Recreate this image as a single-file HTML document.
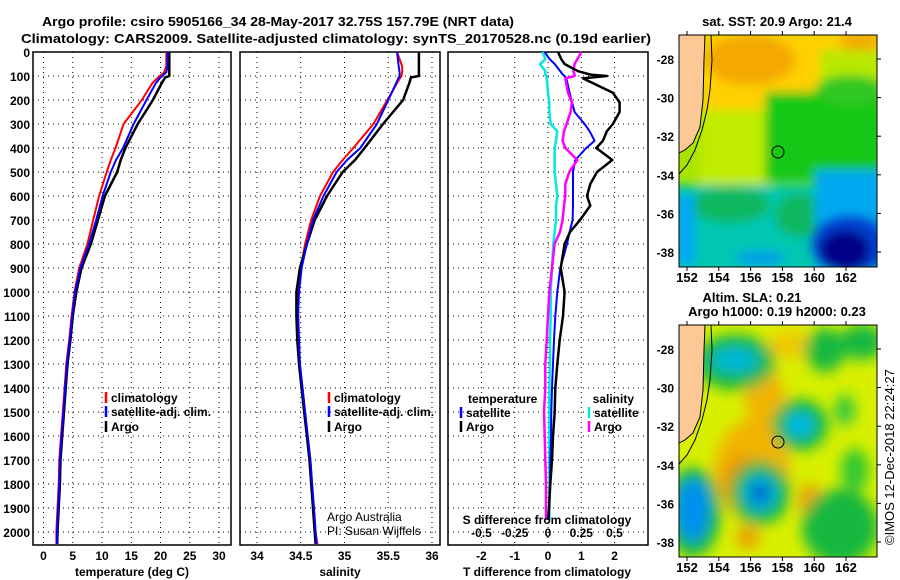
<!DOCTYPE html>
<html><head><meta charset="utf-8"><style>
html,body{margin:0;padding:0;background:#fff}
svg{display:block;font-family:"Liberation Sans",Arial,sans-serif}
.b{font-weight:bold;font-size:13px}
.grid{stroke:#000;stroke-width:1;stroke-dasharray:1,4}
</style></head><body>
<svg id="s" width="900" height="580" viewBox="0 0 900 580" xmlns="http://www.w3.org/2000/svg">
<defs>
<filter id="bl1" x="-20%" y="-20%" width="140%" height="140%"><feGaussianBlur stdDeviation="5"/></filter>
<filter id="bl2" x="-30%" y="-30%" width="160%" height="160%"><feGaussianBlur stdDeviation="7"/></filter>
<clipPath id="c1"><rect x="679" y="35" width="198" height="232"/></clipPath>
<clipPath id="c2"><rect x="679" y="325" width="198" height="232"/></clipPath>
</defs>
<text class="b" x="42" y="26" textLength="472" lengthAdjust="spacingAndGlyphs">Argo profile: csiro 5905166_34 28-May-2017 32.75S 157.79E (NRT data)</text>
<text class="b" x="21" y="43" textLength="630" lengthAdjust="spacingAndGlyphs">Climatology: CARS2009. Satellite-adjusted climatology: synTS_20170528.nc (0.19d earlier)</text>

<g id="p1"></g>
<g id="p2"></g>
<g id="p3"></g>

<!-- Map 1: SST -->
<g>
<text class="b" x="777" y="26" text-anchor="middle" font-size="12">sat. SST: 20.9 Argo: 21.4</text>
<g clip-path="url(#c1)">
<rect x="679" y="35" width="198" height="232" fill="#a8e400"/>
<g filter="url(#bl1)">
<rect x="700" y="30" width="190" height="80" fill="#ffd000"/>
<ellipse cx="750" cy="60" rx="45" ry="25" fill="#f4a800"/>
<ellipse cx="860" cy="42" rx="20" ry="10" fill="#f4a800"/>
<rect x="820" y="50" width="70" height="45" fill="#b8e800"/>
<rect x="700" y="110" width="70" height="85" fill="#c0ec00"/>
<rect x="765" y="92" width="120" height="90" fill="#18c818"/>
<ellipse cx="850" cy="90" rx="35" ry="15" fill="#30c820"/>
<rect x="670" y="185" width="220" height="90" fill="#00c8b0"/>
<ellipse cx="730" cy="205" rx="40" ry="18" fill="#10b860"/>
<ellipse cx="800" cy="215" rx="25" ry="22" fill="#10b860"/>
<rect x="815" y="170" width="70" height="100" fill="#00a8f0"/>
<rect x="675" y="195" width="20" height="70" fill="#00a8f0"/>
<ellipse cx="850" cy="245" rx="40" ry="30" fill="#0040d0"/>
<ellipse cx="845" cy="250" rx="25" ry="20" fill="#000088"/>
<ellipse cx="760" cy="258" rx="25" ry="8" fill="#00a0e8"/>
</g>
<polygon points="679,35 705,35 704,60 703,100 700,127 693,143 685,150 679,153" fill="#fbc896" stroke="#000" stroke-width="1"/>
<polyline points="711,35 712,60 710,90 707,110 702,130 695,150 687,165 679,174" fill="none" stroke="#000" stroke-width="1"/>
<circle cx="778" cy="152" r="6" fill="none" stroke="#000" stroke-width="1"/>
</g>
<rect x="679" y="35" width="198" height="232" fill="none" stroke="#000" stroke-width="1"/>
</g>

<!-- Map 2: SLA -->
<g>
<text class="b" x="752" y="302" text-anchor="middle" font-size="12">Altim. SLA: 0.21</text>
<text class="b" x="777" y="316" text-anchor="middle" font-size="12">Argo h1000: 0.19 h2000: 0.23</text>
<g clip-path="url(#c2)">
<rect x="679" y="325" width="198" height="232" fill="#d8f000"/>
<g filter="url(#bl2)">
<ellipse cx="752" cy="470" rx="38" ry="50" fill="#f2b400"/>
<ellipse cx="765" cy="400" rx="20" ry="32" fill="#f2b400"/>
<ellipse cx="745" cy="480" rx="22" ry="24" fill="#ea9400"/>
<ellipse cx="810" cy="500" rx="12" ry="16" fill="#eca000"/>
<ellipse cx="748" cy="537" rx="12" ry="12" fill="#eca000"/>
<ellipse cx="790" cy="345" rx="22" ry="14" fill="#f0c800"/>
<ellipse cx="735" cy="362" rx="40" ry="28" fill="#18b840"/>
<ellipse cx="735" cy="360" rx="24" ry="13" fill="#00b8d8"/>
<ellipse cx="825" cy="350" rx="20" ry="22" fill="#18b840"/>
<ellipse cx="862" cy="342" rx="22" ry="18" fill="#18b840"/>
<ellipse cx="800" cy="425" rx="28" ry="26" fill="#18b840"/>
<ellipse cx="800" cy="425" rx="14" ry="13" fill="#00b8e8"/>
<ellipse cx="845" cy="410" rx="10" ry="16" fill="#30c840"/>
<ellipse cx="760" cy="493" rx="30" ry="32" fill="#18b840"/>
<ellipse cx="760" cy="493" rx="17" ry="18" fill="#00b0e8"/>
<ellipse cx="760" cy="493" rx="8" ry="9" fill="#0028c0"/>
<ellipse cx="693" cy="512" rx="28" ry="45" fill="#18b840"/>
<ellipse cx="693" cy="510" rx="17" ry="32" fill="#0090f0"/>
<ellipse cx="840" cy="527" rx="38" ry="38" fill="#18b840"/>
<ellipse cx="855" cy="470" rx="14" ry="22" fill="#30c830"/>
</g>
<polygon points="679,325 705,325 704,350 703,390 700,417 693,433 685,440 679,443" fill="#fbc896" stroke="#000" stroke-width="1"/>
<polyline points="711,325 712,350 710,380 707,400 702,420 695,440 687,455 679,464" fill="none" stroke="#000" stroke-width="1"/>
<circle cx="778" cy="442" r="6" fill="none" stroke="#000" stroke-width="1"/>
</g>
<rect x="679" y="325" width="198" height="232" fill="none" stroke="#000" stroke-width="1"/>
</g>
<g id="mapaxes"></g>
<text x="0" y="0" font-size="13" transform="translate(894,545) rotate(-90)">©IMOS 12-Dec-2018 22:24:27</text>
</svg>
<script>
// ---- data ----
var depths = [0,60,85,100,106,130,200,300,400,450,500,600,700,800,900,1000,1100,1200,1300,1400,1500,1600,1700,1800,1900,2000,2050];
var tempClim = [21.0,21.0,20.6,19.9,19.6,18.6,16.8,13.7,12.3,11.5,10.8,9.5,8.5,7.5,6.1,5.3,4.8,4.4,3.9,3.6,3.3,3.0,2.7,2.6,2.4,2.2,2.2];
var tempSat  = [21.2,21.2,21.0,20.3,20.0,19.2,17.6,15.4,13.6,12.4,11.5,10.1,9.0,7.8,6.3,5.4,4.9,4.5,4.0,3.7,3.4,3.1,2.8,2.7,2.5,2.3,2.3];
var tempArgo = [21.5,21.5,21.5,21.5,20.8,20.2,18.7,16.1,14.0,13.2,12.6,10.5,9.3,8.1,6.5,5.6,5.0,4.6,4.1,3.8,3.5,3.2,2.9,2.8,2.6,2.4,2.35];
var salClim = [35.60,35.66,35.66,35.65,35.64,35.60,35.49,35.33,35.10,34.98,34.87,34.72,34.62,34.55,34.50,34.47,34.47,34.48,34.49,34.52,34.55,34.58,34.61,34.63,34.65,34.67,34.69];
var salSat  = [35.60,35.62,35.63,35.63,35.62,35.59,35.50,35.37,35.18,35.03,34.91,34.76,34.64,34.57,34.51,34.48,34.47,34.48,34.49,34.52,34.55,34.58,34.61,34.63,34.65,34.67,34.68];
var salArgo = [35.85,35.85,35.85,35.85,35.76,35.74,35.67,35.44,35.23,35.12,34.98,34.80,34.66,34.57,34.49,34.45,34.45,34.46,34.48,34.51,34.54,34.57,34.60,34.62,34.64,34.66,34.67];
var diffDepths = [0,30,50,80,95,100,110,170,210,250,300,330,370,400,450,500,550,600,640,700,750,800,900,1000,1100,1200,1300,1400,1500,1600,1700,1800,1900,1950];
var dTSat  = [-0.1,0.05,0.2,0.37,0.45,0.5,0.55,0.65,0.72,0.8,1.1,1.25,1.4,1.15,0.82,0.75,0.75,0.75,0.75,0.74,0.65,0.57,0.37,0.28,0.22,0.18,0.15,0.12,0.1,0.09,0.07,0.06,0.04,0.03];
var dTArgo = [0.3,0.4,0.5,0.9,1.3,1.77,1.05,1.95,2.15,2.15,1.95,1.77,1.65,1.45,1.93,1.47,1.27,1.17,1.27,0.96,0.66,0.5,0.38,0.5,0.45,0.35,0.28,0.22,0.2,0.15,0.12,0.07,0.03,0.0];
var dSSat  = [-0.04,-0.02,-0.06,-0.02,-0.02,-0.01,-0.01,0.0,0.01,0.01,0.02,0.07,0.06,0.05,0.05,0.05,0.06,0.07,0.06,0.06,0.05,0.04,0.03,0.02,0.02,0.015,0.015,0.01,0.01,0.01,0.01,0.01,0.01,0.01];
var dSArgo = [0.25,0.22,0.2,0.19,0.2,0.2,0.13,0.15,0.18,0.17,0.14,0.12,0.11,0.13,0.22,0.16,0.13,0.13,0.12,0.11,0.09,0.05,0.03,0.01,0.0,-0.01,-0.02,-0.02,-0.03,-0.025,-0.02,-0.015,-0.015,-0.015];
var depthTicks = [0,100,200,300,400,500,600,700,800,900,1000,1100,1200,1300,1400,1500,1600,1700,1800,1900,2000];
var tempTicks = [0,5,10,15,20,25,30];
var salTicks = ["34","34.5","35","35.5","36"];
var tdTicks = ["-2","-1","0","1","2"];
var sdTicks = ["-0.5","-0.25","0","0.25","0.5"];
var lonTicks = [152,154,156,158,160,162];
var latTicks = [-28,-30,-32,-34,-36,-38];

var NS='http://www.w3.org/2000/svg';
function mk(p,tag,at){var e=document.createElementNS(NS,tag);for(var k in at)e.setAttribute(k,at[k]);p.appendChild(e);return e;}
function yD(d){return 52+d*0.24;}
function xT(t){return 43.5+t*5.85;}
function xS(s){return 257+(s-34)*87.5;}
function xTD(v){return 548+v*33.3;}
function xSD(v){return 548+v*133;}

function panel(g,x0,x1,vgrid){
  depthTicks.forEach(function(d){ if(d>0){var l=mk(g,'line',{x1:x0,x2:x1,y1:yD(d),y2:yD(d),'class':'grid'});
    
    }});
  vgrid.forEach(function(x){var l=mk(g,'line',{x1:x,x2:x,y1:52,y2:545,'class':'grid'});
    
    });
  var r=mk(g,'rect',{x:x0,y:52,width:x1-x0,height:493,fill:'none',stroke:'#000','stroke-width':1.5});
  
  
}
function line(g,xs,ds,xf,col,w,name){
  var pts=[];for(var i=0;i<xs.length;i++)pts.push(xf(xs[i]).toFixed(1)+','+yD(ds[i]).toFixed(1));
  var p=mk(g,'polyline',{points:pts.join(' '),fill:'none',stroke:col,'stroke-width':w,'stroke-linejoin':'round'});
  
  
}
function txt(g,x,y,s,anchor,bold,name,size){
  var t=mk(g,'text',{x:x,y:y,'text-anchor':anchor||'start'});
  if(bold)t.setAttribute('font-weight','bold');
  t.setAttribute('font-size',size||13);
  t.textContent=s;
  
  
  return t;
}
function legend(g,x,y,col,label,name){
  var l=mk(g,'line',{x1:x,x2:x,y1:y-10,y2:y+1,stroke:col,'stroke-width':2.5});
  
  
  txt(g,x+5,y,label,'start',true,name,12);
}

// Panel 1 temperature
var g1=document.getElementById('p1');
panel(g1,33,231,tempTicks.map(xT));
line(g1,tempClim,depths,xT,'#ff0000',2,'temperature-climatology-line');
line(g1,tempArgo,depths,xT,'#000',2.5,'temperature-argo-line');
line(g1,tempSat,depths,xT,'#0000ff',2,'temperature-satellite-line');
depthTicks.forEach(function(d){txt(g1,30,yD(d)+5,String(d),'end',true,'depth-tick-label',12);});
tempTicks.forEach(function(t){txt(g1,xT(t),560,String(t),'middle',true,'temperature-tick-label',12);});
txt(g1,132,576,'temperature (deg C)','middle',true,'temperature-axis-title',12);
legend(g1,106,402,'#ff0000','climatology','legend-climatology');
legend(g1,106,416,'#0000ff','satellite-adj. clim.','legend-satellite');
legend(g1,106,431,'#000','Argo','legend-argo');

// Panel 2 salinity
var g2=document.getElementById('p2');
panel(g2,240,440,salTicks.map(function(s){return xS(parseFloat(s));}));
line(g2,salClim,depths,xS,'#ff0000',2,'salinity-climatology-line');
line(g2,salArgo,depths,xS,'#000',2.5,'salinity-argo-line');
line(g2,salSat,depths,xS,'#0000ff',2,'salinity-satellite-line');
salTicks.forEach(function(s){txt(g2,xS(parseFloat(s)),560,s,'middle',true,'salinity-tick-label',12);});
txt(g2,340,576,'salinity','middle',true,'salinity-axis-title',12);
legend(g2,329,402,'#ff0000','climatology','legend-climatology');
legend(g2,329,416,'#0000ff','satellite-adj. clim.','legend-satellite');
legend(g2,329,431,'#000','Argo','legend-argo');
txt(g2,327,521,'Argo Australia','start',false,'credit-line-1',12);
txt(g2,327,535,'PI: Susan Wijffels','start',false,'credit-line-2',12);

// Panel 3 differences
var g3=document.getElementById('p3');
panel(g3,448,648,tdTicks.map(function(v){return xTD(parseFloat(v));}));
line(g3,dSSat,diffDepths,xSD,'#00e8e8',2.5,'salinity-diff-satellite-line');
line(g3,dTSat,diffDepths,xTD,'#0000ff',2,'temperature-diff-satellite-line');
line(g3,dSArgo,diffDepths,xSD,'#ff00ff',2.5,'salinity-diff-argo-line');
line(g3,dTArgo,diffDepths,xTD,'#000',2.5,'temperature-diff-argo-line');
tdTicks.forEach(function(v){txt(g3,xTD(parseFloat(v)),560,v,'middle',true,'t-diff-tick-label',12);});
sdTicks.forEach(function(v){txt(g3,xSD(parseFloat(v)),537,v,'middle',true,'s-diff-tick-label',12);});
txt(g3,547,524,'S difference from climatology','middle',true,'s-diff-axis-title',12);
txt(g3,547,576,'T difference from climatology','middle',true,'t-diff-axis-title',12);
txt(g3,468,403,'temperature','start',true,'legend-temperature-heading',12);
legend(g3,461,417,'#0000ff','satellite','legend-t-satellite');
legend(g3,461,431,'#000','Argo','legend-t-argo');
txt(g3,634,403,'salinity','end',true,'legend-salinity-heading',12);
legend(g3,589,417,'#00e8e8','satellite','legend-s-satellite');
legend(g3,589,431,'#ff00ff','Argo','legend-s-argo');

// Map axes
var ga=document.getElementById('mapaxes');
function xLon(l){return 687+(l-152)*15.9;}
[0,290].forEach(function(off){
  lonTicks.forEach(function(l){
    txt(ga,xLon(l),282+off,String(l),'middle',true,'longitude-tick-label',13);
    var a=mk(ga,'line',{x1:xLon(l),x2:xLon(l),y1:267+off,y2:271+off,stroke:'#000'});
    
    
    var b=mk(ga,'line',{x1:xLon(l),x2:xLon(l),y1:35+off,y2:31+off,stroke:'#000'});
    
    
  });
  latTicks.forEach(function(la){
    var y=59+(-28-la)*19.3+off;
    txt(ga,674,y+5,String(la),'end',true,'latitude-tick-label',12);
    var a=mk(ga,'line',{x1:877,x2:881,y1:y,y2:y,stroke:'#000'});
    
    
  });
});
</script>
</body></html>
